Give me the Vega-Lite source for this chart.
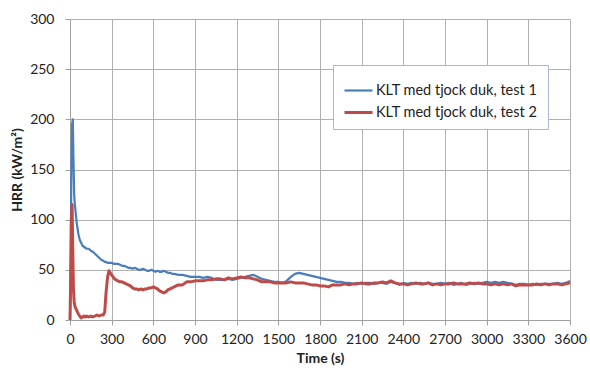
{
  "$schema": "https://vega.github.io/schema/vega-lite/v6.json",
  "width": 500,
  "height": 301,
  "autosize": {"type": "none"},
  "padding": {"left": 70, "top": 19, "right": 20, "bottom": 54},
  "background": "white",
  "config": {
    "font": "Lato",
    "view": {"stroke": null},
    "axis": {
      "labelFont": "Lato", "labelFontSize": 14, "labelColor": "#222",
      "titleFont": "Lato", "titleFontSize": 14, "titleFontWeight": "bold", "titleColor": "#222",
      "gridColor": "#b0b0b0", "gridWidth": 1,
      "domainColor": "#a0a0a0", "tickColor": "#a0a0a0", "tickSize": 5
    }
  },
  "data": {"values": [
    {"t":0,"a":0,"b":0},{"t":5,"a":60,"b":40},{"t":10,"a":150,"b":100},{"t":15,"a":195,"b":115},{"t":20,"a":200,"b":70},
    {"t":25,"a":160,"b":30},{"t":30,"a":125,"b":18},{"t":35,"a":115,"b":14},{"t":40,"a":108,"b":12},{"t":50,"a":95,"b":9},
    {"t":60,"a":86,"b":6},{"t":70,"a":80,"b":4},{"t":80,"a":77,"b":2},{"t":90,"a":74,"b":3},{"t":100,"a":73,"b":4},
    {"t":110,"a":72,"b":3},{"t":120,"a":71,"b":4},{"t":135,"a":71,"b":3},{"t":150,"a":69,"b":4},{"t":165,"a":68,"b":3},
    {"t":180,"a":66,"b":4},{"t":195,"a":64,"b":5},{"t":210,"a":62,"b":4},{"t":225,"a":60,"b":5},{"t":240,"a":59,"b":5},
    {"t":250,"a":58,"b":8},{"t":260,"a":58,"b":28},{"t":270,"a":57,"b":42},{"t":280,"a":57,"b":49},{"t":290,"a":57,"b":47},
    {"t":300,"a":57,"b":45},{"t":315,"a":56,"b":42},{"t":330,"a":56,"b":40},{"t":345,"a":56,"b":39},{"t":360,"a":55,"b":38},
    {"t":375,"a":54,"b":38},{"t":390,"a":54,"b":37},{"t":405,"a":53,"b":36},{"t":420,"a":52,"b":35},{"t":435,"a":52,"b":34},
    {"t":450,"a":51,"b":32},{"t":465,"a":52,"b":31},{"t":480,"a":51,"b":31},{"t":495,"a":50,"b":30},{"t":510,"a":50,"b":31},
    {"t":525,"a":51,"b":30},{"t":540,"a":50,"b":31},{"t":555,"a":49,"b":31},{"t":570,"a":49,"b":32},{"t":585,"a":50,"b":32},
    {"t":600,"a":49,"b":33},{"t":615,"a":48,"b":32},{"t":630,"a":49,"b":31},{"t":645,"a":48,"b":29},{"t":660,"a":48,"b":28},
    {"t":675,"a":49,"b":27},{"t":690,"a":48,"b":28},{"t":705,"a":47,"b":30},{"t":720,"a":47,"b":31},{"t":735,"a":46,"b":32},
    {"t":750,"a":46,"b":33},{"t":780,"a":45,"b":35},{"t":810,"a":45,"b":35},{"t":840,"a":44,"b":38},{"t":870,"a":43,"b":38},
    {"t":900,"a":43,"b":39},{"t":930,"a":43,"b":39},{"t":960,"a":42,"b":39},{"t":990,"a":43,"b":40},{"t":1020,"a":42,"b":40},
    {"t":1050,"a":40,"b":41},{"t":1080,"a":40,"b":41},{"t":1110,"a":40,"b":40},{"t":1140,"a":41,"b":42},{"t":1170,"a":40,"b":41},
    {"t":1200,"a":41,"b":42},{"t":1230,"a":42,"b":43},{"t":1260,"a":43,"b":42},{"t":1290,"a":44,"b":42},{"t":1320,"a":45,"b":41},
    {"t":1350,"a":43,"b":40},{"t":1380,"a":41,"b":38},{"t":1410,"a":40,"b":38},{"t":1440,"a":39,"b":38},{"t":1470,"a":38,"b":37},
    {"t":1500,"a":38,"b":37},{"t":1530,"a":37,"b":37},{"t":1560,"a":39,"b":37},{"t":1590,"a":43,"b":38},{"t":1620,"a":46,"b":37},
    {"t":1650,"a":47,"b":37},{"t":1680,"a":46,"b":37},{"t":1710,"a":45,"b":36},{"t":1740,"a":44,"b":35},{"t":1770,"a":43,"b":35},
    {"t":1800,"a":42,"b":34},{"t":1830,"a":41,"b":34},{"t":1860,"a":40,"b":33},{"t":1890,"a":39,"b":35},{"t":1920,"a":38,"b":35},
    {"t":1950,"a":38,"b":35},{"t":1980,"a":37,"b":36},{"t":2010,"a":37,"b":35},{"t":2040,"a":36,"b":36},{"t":2070,"a":37,"b":36},
    {"t":2100,"a":36,"b":37},{"t":2130,"a":37,"b":36},{"t":2160,"a":37,"b":36},{"t":2190,"a":36,"b":37},{"t":2220,"a":37,"b":37},
    {"t":2250,"a":37,"b":38},{"t":2280,"a":36,"b":37},{"t":2310,"a":38,"b":39},{"t":2340,"a":37,"b":37},{"t":2370,"a":35,"b":36},
    {"t":2400,"a":37,"b":36},{"t":2430,"a":36,"b":35},{"t":2460,"a":37,"b":36},{"t":2490,"a":36,"b":37},{"t":2520,"a":37,"b":36},
    {"t":2550,"a":36,"b":36},{"t":2580,"a":37,"b":37},{"t":2610,"a":36,"b":35},{"t":2640,"a":36,"b":36},{"t":2670,"a":37,"b":35},
    {"t":2700,"a":36,"b":36},{"t":2730,"a":37,"b":36},{"t":2760,"a":35,"b":37},{"t":2790,"a":36,"b":36},{"t":2820,"a":37,"b":36},
    {"t":2850,"a":35,"b":36},{"t":2880,"a":36,"b":37},{"t":2910,"a":37,"b":36},{"t":2940,"a":36,"b":37},{"t":2970,"a":37,"b":36},
    {"t":3000,"a":38,"b":36},{"t":3030,"a":37,"b":35},{"t":3060,"a":38,"b":36},{"t":3090,"a":37,"b":35},{"t":3120,"a":38,"b":36},
    {"t":3150,"a":37,"b":35},{"t":3180,"a":36,"b":36},{"t":3210,"a":35,"b":34},{"t":3240,"a":36,"b":35},{"t":3270,"a":36,"b":35},
    {"t":3300,"a":35,"b":35},{"t":3330,"a":36,"b":35},{"t":3360,"a":35,"b":36},{"t":3390,"a":36,"b":35},{"t":3420,"a":36,"b":36},
    {"t":3450,"a":36,"b":35},{"t":3480,"a":36,"b":36},{"t":3510,"a":37,"b":36},{"t":3540,"a":36,"b":35},{"t":3570,"a":37,"b":36},
    {"t":3600,"a":39,"b":37}
  ]},
  "transform": [{"fold": ["a", "b"], "as": ["series", "hrr"]}],
  "mark": {"type": "line", "strokeJoin": "round"},
  "encoding": {
    "x": {
      "field": "t", "type": "quantitative", "title": "Time (s)",
      "scale": {"domain": [0, 3600], "nice": false},
      "axis": {"values": [0,300,600,900,1200,1500,1800,2100,2400,2700,3000,3300,3600], "format": "d", "labelPadding": 7, "titlePadding": 5, "labelFlush": false}
    },
    "y": {
      "field": "hrr", "type": "quantitative", "title": "HRR (kW/m²)",
      "scale": {"domain": [0, 300], "nice": false},
      "axis": {"values": [0,50,100,150,200,250,300], "labelPadding": 11, "titlePadding": 5}
    },
    "color": {
      "field": "series", "type": "nominal",
      "scale": {"domain": ["a", "b"], "range": ["#4a7ebb", "#be4b48"]},
      "legend": {
        "title": null, "orient": "none", "legendX": 263, "legendY": 46,
        "labelExpr": "datum.value == 'a' ? 'KLT med tjock duk, test 1' : 'KLT med tjock duk, test 2'",
        "labelFontSize": 14.5, "labelFont": "Lato", "labelColor": "#222", "labelLimit": 400,
        "symbolType": "stroke", "symbolSize": 784, "symbolStrokeWidth": 2.5,
        "strokeColor": "#a8b8d0", "fillColor": "white", "padding": 10, "rowPadding": -5,
        "labelOffset": 2
      }
    },
    "strokeWidth": {
      "field": "series", "type": "nominal",
      "scale": {"domain": ["a", "b"], "range": [2.2, 3]},
      "legend": null
    }
  }
}
